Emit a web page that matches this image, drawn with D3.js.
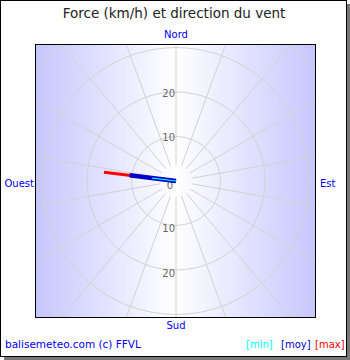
<!DOCTYPE html>
<html><head><meta charset="utf-8">
<script src="https://cdn.jsdelivr.net/npm/d3@7"></script>
<style>html,body{margin:0;padding:0;background:#fff}svg{display:block;font-family:"DejaVu Sans",sans-serif}</style>
</head><body><svg id="c" width="350" height="360"></svg>
<script>
const title = "Force (km/h) et direction du vent";
const compassLabels = ["Nord", "Est", "Sud", "Ouest"];
const compassAngles = [0, 90, 180, 270];
const ringValues = [10, 20, 30, 40];
const tickLabels = ["0", "10", "20"];
const tickValues = [0, 10, 20];
const seriesNames = ["[min]", "[moy]", "[max]"];
const seriesColors = ["#00ffff", "#0000cc", "#ff0000"];
const windDirection = [277, 277, 277];
const windSpeed = [5.4, 10.5, 16.3];
const footer = "balisemeteo.com (c) FFVL";

const svg = d3.select("#c");
const cx = 176, cy = 181;
const plot = {x: 35, y: 44, w: 281, h: 274};
const r = d3.scaleLinear().domain([0, 10]).range([0, 44.5]);
const ang = d3.scaleLinear().domain([0, 360]).range([0, 2 * Math.PI]);
const pt = (deg, v) => [cx + r(v) * Math.sin(ang(deg)), cy - r(v) * Math.cos(ang(deg))];

// frame with shadow
svg.append("rect").attr("x", 4).attr("y", 357).attr("width", 346).attr("height", 3).attr("fill", "#777");
svg.append("rect").attr("x", 347).attr("y", 4).attr("width", 3).attr("height", 356).attr("fill", "#777");
svg.append("rect").attr("x", 0.5).attr("y", 0.5).attr("width", 346).attr("height", 356)
  .attr("fill", "#fff").attr("stroke", "#000");

const defs = svg.append("defs");
const g = defs.append("linearGradient").attr("id", "bg").attr("x1", "0").attr("x2", "1").attr("y1", "0").attr("y2", "0");
g.append("stop").attr("offset", "0").attr("stop-color", "#c6c6ff");
g.append("stop").attr("offset", "0.5").attr("stop-color", "#ffffff");
g.append("stop").attr("offset", "1").attr("stop-color", "#c6c6ff");
defs.append("clipPath").attr("id", "clip").append("rect")
  .attr("x", plot.x).attr("y", plot.y).attr("width", plot.w).attr("height", plot.h);

svg.append("rect").attr("x", plot.x).attr("y", plot.y).attr("width", plot.w).attr("height", plot.h)
  .attr("fill", "url(#bg)");

const grid = svg.append("g").attr("clip-path", "url(#clip)");
grid.selectAll("circle").data(ringValues).join("circle")
  .attr("cx", cx).attr("cy", cy).attr("r", d => r(d))
  .attr("fill", "none").attr("stroke", "#d2d2d2").attr("stroke-width", 1);
const spokes = d3.range(0, 360, 20);
grid.selectAll("line").data(spokes).join("line")
  .attr("x1", d => pt(d, 3.6)[0]).attr("y1", d => pt(d, 3.6)[1])
  .attr("x2", d => pt(d, 50)[0]).attr("y2", d => pt(d, 50)[1])
  .attr("stroke", "#d2d2d2").attr("stroke-width", 1);

// tick labels along vertical axis
const ticks = svg.append("g").attr("font-size", 10).attr("fill", "#666").attr("text-anchor", "end");
tickValues.forEach((v, i) => {
  if (v === 0) {
    ticks.append("text").attr("x", cx - 3).attr("y", cy + 4).attr("dy", "0.35em").text(tickLabels[i]);
  } else {
    ticks.append("text").attr("x", cx - 1).attr("y", cy - r(v) + 1).attr("dy", "0.35em").text(tickLabels[i]);
    ticks.append("text").attr("x", cx - 1).attr("y", cy + r(v) + 3).attr("dy", "0.35em").text(tickLabels[i]);
  }
});

// wind lines: max, moy, min
const widths = [1.2, 4.5, 3];
[2, 1, 0].forEach(i => {
  const p = pt(windDirection[i], windSpeed[i]);
  svg.append("line").attr("x1", cx).attr("y1", cy).attr("x2", p[0]).attr("y2", p[1])
    .attr("stroke", seriesColors[i]).attr("stroke-width", widths[i]);
});

svg.append("rect").attr("x", plot.x + 0.5).attr("y", plot.y + 0.5).attr("width", plot.w - 1).attr("height", plot.h - 1)
  .attr("fill", "none").attr("stroke", "#000");

// title
svg.append("text").attr("x", 174).attr("y", 13).attr("dy", "0.35em").attr("text-anchor", "middle")
  .attr("font-size", 13.5).attr("fill", "#222").text(title);

// compass labels
const cl = svg.append("g").attr("font-size", 10).attr("fill", "#0000ff");
const cpos = [[cx, 34, "middle"], [320, 183, "start"], [cx, 325, "middle"], [34, 183, "end"]];
compassLabels.forEach((t, i) => {
  cl.append("text").attr("x", cpos[i][0]).attr("y", cpos[i][1]).attr("dy", "0.35em")
    .attr("text-anchor", cpos[i][2]).text(t);
});

// footer
svg.append("text").attr("x", 5).attr("y", 344).attr("dy", "0.35em").attr("font-size", 10.5)
  .attr("fill", "#0000ff").text(footer);
const lx = [246, 281, 315];
seriesNames.forEach((t, i) => {
  svg.append("text").attr("x", lx[i]).attr("y", 344).attr("dy", "0.35em").attr("font-size", 10)
    .attr("fill", seriesColors[i]).text(t);
});
</script></body></html>
